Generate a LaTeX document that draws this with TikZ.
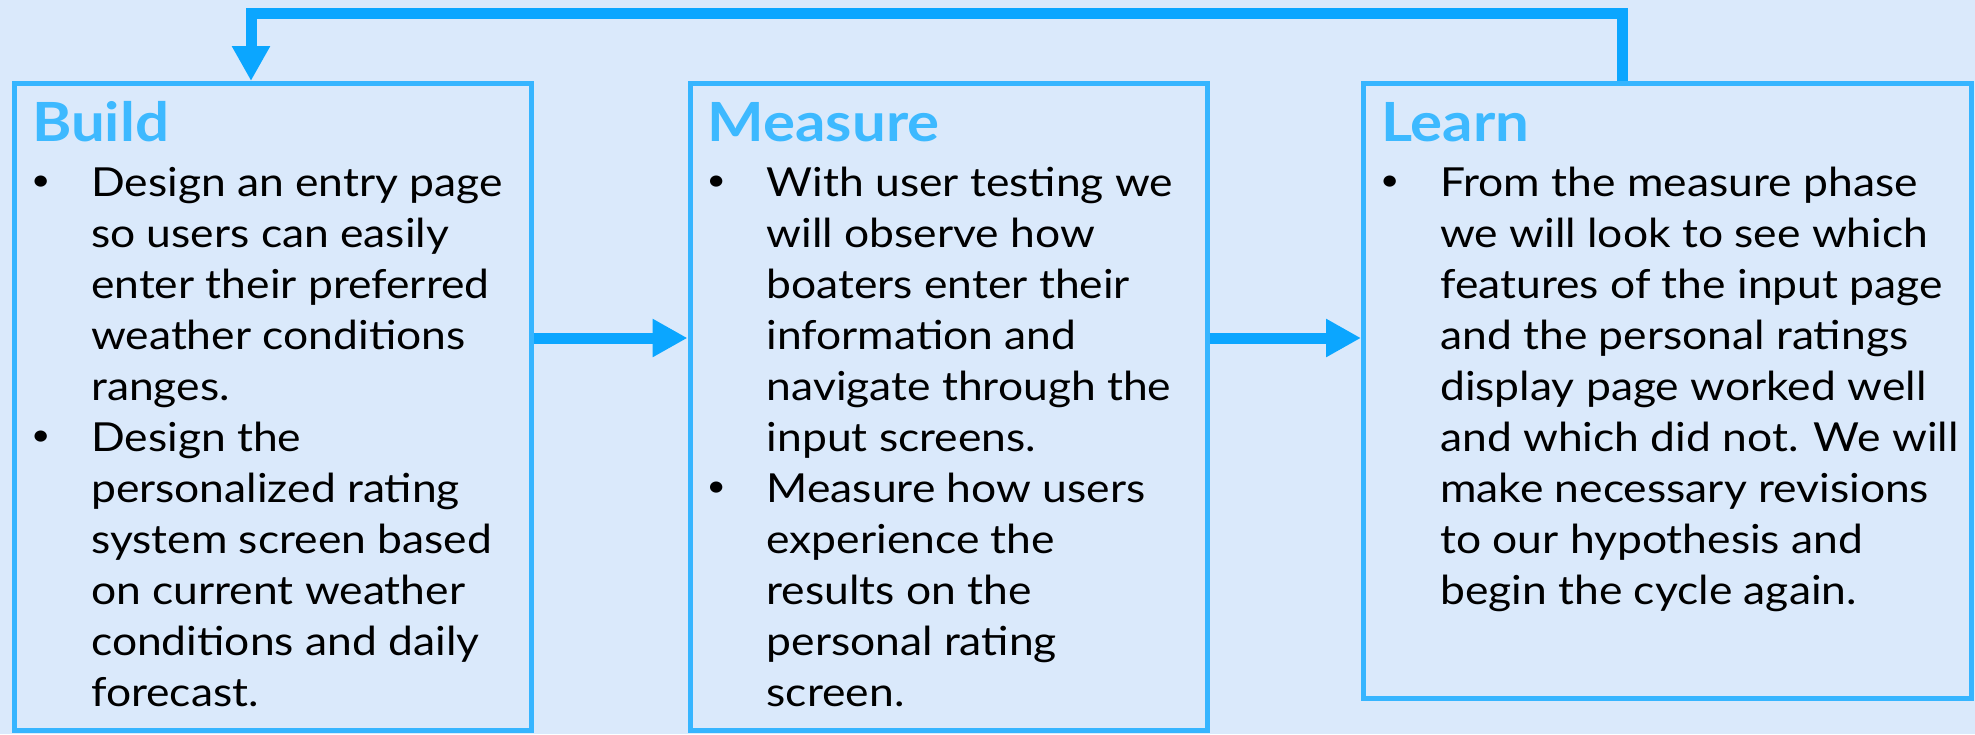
\documentclass[tikz,border=0pt]{standalone}
\usepackage{fontspec}
\setmainfont{Lato}[FakeStretch=1.11]
\usepackage{xcolor}
\usetikzlibrary{arrows.meta,positioning}

\definecolor{paper}{HTML}{DAE9FB}
\definecolor{rim}{HTML}{36B5FF}
\definecolor{flowblue}{HTML}{0BA6FF}
\definecolor{headblue}{HTML}{3DB9FF}

\newcommand{\bul}{\makebox[55pt][l]{\hspace{-5pt}\raisebox{6pt}{\fontsize{30}{51}\selectfont\textbullet}}}
\newcommand{\phaselist}[1]{\begin{tabular}[t]{@{}l@{}l@{}}#1\end{tabular}}

\begin{document}
\begin{tikzpicture}[
    x=1pt, y=-1pt,
    phase/.style={draw=rim, line width=5pt, fill=paper, inner sep=0pt},
    head/.style={font=\fontsize{54}{60}\selectfont\bfseries, text=headblue, inner sep=0pt, anchor=base west},
    items/.style={font=\fontsize{40}{51}\selectfont, text=black, inner sep=0pt, anchor=base west},
    flow/.style={draw=flowblue, line width=11pt, -{Triangle[length=35pt,width=36pt]}}
]
\fill[paper] (0,0) rectangle (1975,734);
\useasboundingbox (0,0) rectangle (1975,734);

\node[phase, minimum width=517pt, minimum height=647pt] (build) at (273,407) {};
\node[phase, minimum width=517pt, minimum height=647pt] (measure) at (948.5,407) {};
\node[phase, minimum width=607.5pt, minimum height=614.5pt] (learn) at (1667.25,390.75) {};

\node[head] (buildhead) at ([shift={(20pt,-60pt)}]build.north west) {Build};
\node[head] (measurehead) at ([shift={(20pt,-60pt)}]measure.north west) {Measure};
\node[head] (learnhead) at ([shift={(20pt,-60pt)}]learn.north west) {Learn};

\node[items] (buildlist) at ([shift={(24pt,-115pt)}]build.north west) {\phaselist{
  \bul & Design an entry page\\
       & so users can easily\\
       & enter their preferred\\
       & weather conditions\\
       & ranges.\\
  \bul & Design the\\
       & personalized rating\\
       & system screen based\\
       & on current weather\\
       & conditions and daily\\
       & forecast.}};
\node[items] (measurelist) at ([shift={(24pt,-115pt)}]measure.north west) {\phaselist{
  \bul & With user testing we\\
       & will observe how\\
       & boaters enter their\\
       & information and\\
       & navigate through the\\
       & input screens.\\
  \bul & Measure how users\\
       & experience the\\
       & results on the\\
       & personal rating\\
       & screen.}};
\node[items] (learnlist) at ([shift={(24pt,-115pt)}]learn.north west) {\phaselist{
  \bul & From the measure phase\\
       & we will look to see which\\
       & features of the input page\\
       & and the personal ratings\\
       & display page worked well\\
       & and which did not. We will\\
       & make necessary revisions\\
       & to our hypothesis and\\
       & begin the cycle again.}};

\coordinate (mid) at (0,338);
\coordinate (loop) at (900,13.5);
\coordinate (back) at ([xshift=-45.25pt]learn.north);
\coordinate (into) at ([xshift=-22pt]build.north);

\draw[flow] (build.east |- mid) -- (measure.west |- mid);
\draw[flow] (measure.east |- mid) -- (learn.west |- mid);
\draw[flow] (back) |- (loop) -| (into);
\end{tikzpicture}
\end{document}
